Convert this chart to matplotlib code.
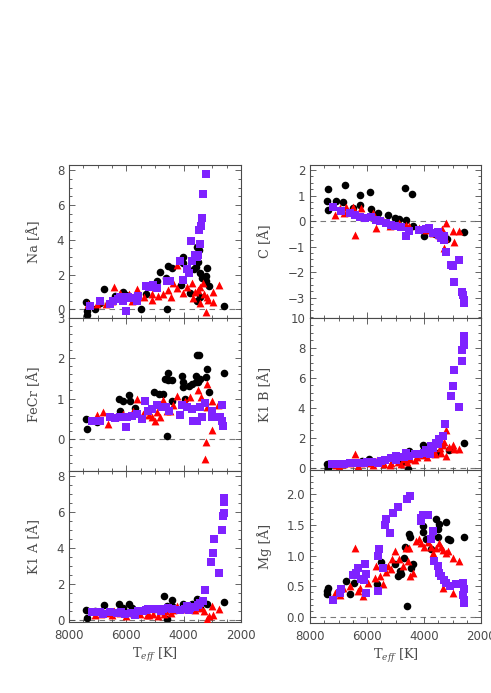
import matplotlib
matplotlib.use("Agg")
import matplotlib.pyplot as plt
from matplotlib.ticker import MultipleLocator, AutoMinorLocator, FormatStrFormatter

# --------------------------
# Data (Teff [K], index [A])
# --------------------------
# Na
na_blk_t = [7410, 7360, 7360, 7090, 6920, 6770, 6400, 6100, 6000, 5500, 5300, 4940, 4830, 4590, 4530,
            4420, 4600, 4030, 4010, 4100, 3780, 3650, 3550, 3450, 3570, 3430, 3550, 3430, 3200, 3220,
            3220, 3100, 2590, 3350, 3500]
na_blk_v = [0.44, -0.08, -0.3, 0.0, 0.35, 1.15, 0.75, 1.0, 0.85, 0.0, 0.9, 1.6, 2.15, 0.0, 2.5,
            2.4, 1.8, 3.0, 2.65, 1.4, 0.92, 2.3, 3.6, 3.4, 2.46, 2.08, 0.45, 0.73, 2.4, 1.92,
            1.6, 1.35, 0.19, 1.8, 2.7]
na_red_t = [7330, 7030, 6920, 6720, 6430, 6220, 5920, 5640, 5400, 5120, 5120, 4880, 4710, 4530, 4360,
            4220, 4240, 4010, 3900, 3720, 3660, 3490, 3430, 3320, 3220, 3290, 3200, 2970, 2970, 2760,
            3430, 3140, 3600, 4450, 5800, 6500]
na_red_v = [0.3, 0.3, 0.5, 0.3, 1.27, 0.95, 0.9, 1.15, 0.7, 0.55, 0.9, 0.75, 0.9, 1.1, 1.5,
            2.56, 1.2, 0.95, 1.3, 1.5, 0.65, 1.1, 1.3, 1.5, -0.13, 0.9, 0.7, 1.0, 0.44, 1.42,
            0.35, 0.55, 1.0, 0.7, 0.5, 0.45]
na_pur_t = [7270, 6920, 6570, 6450, 6280, 6220, 6100, 6010, 5930, 5840, 5640, 5580, 5310, 5200, 5080,
            4940, 4590, 4480, 4130, 4030, 3900, 3750, 3720, 3600, 3550, 3490, 3450, 3400, 3370, 3430,
            3310, 3230, 3800]
na_pur_v = [0.2, 0.48, 0.3, 0.5, 0.6, 0.7, 0.5, -0.08, 0.7, 0.65, 0.5, 0.75, 1.35, 1.3, 1.4,
            1.2, 1.6, 1.6, 2.75, 1.7, 2.3, 3.94, 2.75, 3.1, 3.0, 3.1, 4.58, 4.77, 5.25, 3.77,
            6.63, 7.77, 2.1]

# C
c_blk_t = [7360, 7400, 7360, 7090, 6770, 6840, 6230, 6230, 5910, 5870, 6500, 4660, 4430, 5270, 5030,
           4860, 4630, 4400, 4010, 3600, 3300, 3200, 2590, 5600]
c_blk_v = [1.26, 0.78, 0.42, 0.78, 1.43, 0.75, 1.01, 0.62, 1.13, 0.47, 0.5, 1.3, 1.08, 0.22, 0.12,
           0.1, 0.05, -0.2, -0.58, -0.5, -0.55, -0.7, -0.43, 0.3]
c_red_t = [7130, 6950, 6720, 6490, 6430, 6200, 5790, 5670, 5440, 5210, 4860, 4630, 4510, 4160, 3930,
           3700, 3470, 3230, 3260, 3000, 2940, 2770, 3290, 3380, 5900, 6800]
c_red_v = [0.25, 0.5, 0.57, 0.57, -0.54, 0.5, 0.32, -0.28, 0.05, -0.2, -0.08, -0.15, -0.2, -0.28, -0.34,
           -0.47, -0.54, -0.08, -0.67, -0.4, -0.8, -0.4, -1.06, -0.3, 0.2, 0.3]
c_pur_t = [7210, 6900, 6600, 6430, 6260, 6080, 5850, 5670, 5560, 5330, 5150, 5030, 4630, 4510, 4160,
           3930, 3810, 3700, 3520, 3470, 3410, 3290, 3230, 3060, 3000, 2770, 2940, 2650, 2620, 2590,
           2590, 4800, 3600, 3300]
c_pur_v = [0.54, 0.38, 0.32, 0.25, 0.18, 0.12, 0.18, 0.05, 0.0, -0.08, -0.14, -0.21, -0.6, -0.4, -0.34,
           -0.32, -0.28, -0.47, -0.41, -0.54, -0.67, -0.76, -1.2, -1.72, -1.78, -1.52, -2.38, -2.78, -2.9, -3.1,
           -3.23, -0.25, -0.45, -0.6]

# FeCr
fecr_blk_t = [7420, 7360, 7030, 6240, 6220, 6100, 5890, 5870, 5700, 5020, 4850, 4710, 4650, 4530, 4560,
              4420, 4590, 4070, 4010, 4030, 3960, 3570, 3570, 3550, 3450, 3500, 3430, 3200, 3220, 3100,
              2590, 3800, 3700, 4400]
fecr_blk_v = [0.48, 0.25, 0.41, 1.0, 0.7, 0.93, 1.1, 0.93, 0.76, 1.16, 1.12, 1.12, 1.49, 1.63, 1.45,
              1.45, 0.08, 1.55, 1.28, 1.4, 0.99, 1.4, 1.57, 2.09, 2.09, 1.4, 1.49, 1.74, 1.53, 1.16,
              1.63, 1.3, 1.35, 0.95]
fecr_red_t = [7030, 6800, 6630, 6400, 6110, 5760, 5640, 5410, 5290, 5120, 5000, 4940, 4830, 4710, 4590,
              4470, 4240, 3960, 3790, 3500, 3380, 3200, 3200, 3220, 3260, 3020, 2790, 3000, 4360, 5200]
fecr_red_v = [0.58, 0.66, 0.37, 0.54, 0.62, 0.7, 0.99, 0.62, 0.7, 0.54, 0.45, 0.66, 0.54, 0.96, 0.7,
              0.7, 1.07, 0.95, 1.05, 1.2, 1.03, 1.35, 0.79, -0.08, -0.5, 0.22, 0.83, 0.95, 0.85, 0.6]
fecr_pur_t = [7210, 6920, 6570, 6400, 6220, 6010, 5990, 5810, 5640, 5470, 5350, 5230, 5120, 4940, 4770,
              4620, 4130, 4070, 3900, 3720, 3660, 3550, 3430, 3370, 3260, 3000, 3000, 2680, 2750, 2650,
              2620, 4500]
fecr_pur_v = [0.43, 0.45, 0.54, 0.52, 0.54, 0.29, 0.54, 0.56, 0.62, 0.5, 0.95, 0.7, 0.74, 0.83, 0.79,
              0.79, 0.6, 0.83, 0.79, 0.74, 0.45, 0.45, 0.79, 0.54, 0.88, 0.7, 0.54, 0.84, 0.54, 0.45,
              0.33, 0.7]

# K1 B
k1b_blk_t = [7400, 7360, 6180, 5940, 5880, 4510, 4570, 4050, 4010, 3120, 2590, 3500, 4800]
k1b_blk_v = [0.22, -0.04, 0.44, 0.6, 0.44, 1.1, -0.05, 1.55, 1.27, 1.2, 1.62, 1.0, 0.3]
k1b_red_t = [7100, 6850, 6600, 6430, 6200, 5900, 5640, 5400, 5150, 4900, 4700, 4500, 4250, 4050, 3850,
             3650, 3450, 3230, 3230, 3000, 2940, 2770, 3130, 3350, 3300, 7000, 6300, 5800, 5200, 4800,
             4600, 4300, 3900, 3600, 3400]
k1b_red_v = [0.2, 0.25, 0.3, 0.95, 0.3, 0.35, 0.55, 0.25, 0.35, 0.4, 0.6, 0.6, 0.75, 0.85, 1.0,
             1.1, 1.3, 2.55, 0.78, 1.55, 1.22, 1.27, 1.4, 1.5, 1.7, 0.1, 0.15, 0.2, 0.2, 0.25,
             0.4, 0.5, 0.7, 0.9, 1.0]
k1b_pur_t = [7240, 6950, 6600, 6400, 6200, 6010, 5840, 5600, 5380, 5150, 4970, 4630, 4510, 4160, 3930,
             3760, 3580, 3470, 3350, 3260, 3060, 3000, 2940, 2770, 2650, 2650, 2590, 2590, 2590, 3800,
             6800, 6100, 5500, 5000, 4700, 4300, 4000, 3700, 3500]
k1b_pur_v = [0.22, 0.22, 0.3, 0.3, 0.35, 0.38, 0.4, 0.33, 0.55, 0.66, 0.77, 0.96, 0.78, 0.89, 1.2,
             1.44, 1.67, 1.89, 2.1, 2.89, 4.78, 5.44, 6.56, 4.07, 7.11, 7.89, 8.56, 8.22, 8.78, 0.9,
             0.25, 0.3, 0.45, 0.5, 0.7, 0.9, 1.0, 1.3, 1.6]

# K1 A
k1a_blk_t = [7410, 7360, 7090, 6770, 6240, 6100, 5890, 5800, 4670, 4590, 4590, 4420, 4010, 3550, 3700,
             3200, 2590, 3430, 4420, 5000]
k1a_blk_v = [0.55, 0.13, 0.5, 0.86, 0.9, 0.7, 0.92, 0.7, 1.32, 0.07, 0.8, 1.14, 0.92, 1.18, 0.92,
             0.92, 0.99, 0.8, 0.8, 0.6]
k1a_red_t = [7090, 6680, 6440, 6210, 5980, 5750, 5520, 5290, 5060, 4830, 4600, 4370, 4240, 4000, 3800,
             3600, 3200, 3100, 3020, 2970, 2760, 3300, 3400, 6900, 6500, 6000, 5600, 5200, 4900, 4700,
             4450]
k1a_red_v = [0.3, 0.4, 0.5, 0.4, 0.45, 0.4, 0.35, 0.3, 0.35, 0.5, 0.5, 0.55, 0.77, 0.6, 0.6,
             0.55, 0.07, 0.25, 0.77, 0.31, 0.62, 0.5, 0.7, 0.35, 0.3, 0.25, 0.45, 0.3, 0.25, 0.35,
             0.4]
k1a_pur_t = [7210, 6920, 6570, 6340, 6050, 5820, 5580, 5410, 5230, 5060, 4880, 4710, 4530, 4130, 3950,
             3780, 3600, 3430, 3340, 3260, 3060, 2990, 2930, 2760, 2650, 2640, 2590, 2590, 2590, 3900,
             6800, 6200, 5700, 5300, 4800, 4400, 3800, 3500]
k1a_pur_v = [0.44, 0.44, 0.44, 0.4, 0.37, 0.4, 0.5, 0.5, 0.6, 0.6, 0.64, 0.62, 0.68, 0.59, 0.62,
             0.68, 0.75, 0.95, 1.05, 1.69, 3.2, 3.71, 4.5, 2.61, 5.0, 5.77, 5.92, 6.56, 6.75, 0.8,
             0.35, 0.45, 0.3, 0.55, 0.5, 0.6, 0.55, 0.85]

# Mg
mg_blk_t = [7400, 7360, 7400, 6740, 6600, 6450, 5650, 5500, 5030, 4920, 4850, 4710, 4660, 4590, 4510,
            4490, 4450, 4390, 4050, 4050, 3930, 3760, 3580, 3520, 3500, 3460, 3230, 3170, 3100, 2590, 4800]
mg_blk_v = [0.42, 0.48, 0.37, 0.58, 0.37, 0.55, 0.53, 0.89, 0.86, 0.67, 0.75, 0.97, 1.15, 0.17, 1.35,
            1.31, 0.8, 0.87, 1.49, 1.38, 1.27, 1.11, 1.6, 1.43, 1.3, 1.51, 1.55, 1.27, 1.26, 1.3, 0.7]
mg_red_t = [7130, 6950, 6830, 6430, 6600, 6310, 6250, 6140, 5970, 5670, 5730, 5560, 5440, 5330, 5270,
            5150, 5120, 5030, 4860, 4740, 4570, 4630, 4510, 4500, 4390, 4280, 4190, 4100, 3990, 3870,
            3760, 3700, 3580, 3470, 3410, 3350, 3230, 3170, 3000, 2770, 3350, 3000]
mg_red_v = [0.39, 0.35, 0.48, 1.13, 0.5, 0.42, 0.48, 0.34, 0.55, 0.83, 0.64, 0.67, 0.53, 0.73, 0.83,
            0.78, 0.94, 1.08, 0.94, 0.83, 0.91, 1.13, 1.13, 0.66, 0.72, 1.24, 1.27, 1.21, 1.15, 1.23,
            1.15, 1.05, 1.13, 1.21, 1.15, 1.1, 1.05, 1.08, 0.97, 0.92, 0.48, 0.39]
mg_pur_t = [7210, 6950, 6900, 6490, 6310, 6400, 6200, 6080, 6020, 6100, 6020, 5620, 5580, 5600, 5430,
            5360, 5210, 5330, 5090, 4920, 4600, 4490, 4100, 4050, 3870, 4100, 3760, 3700, 3640, 3520,
            3460, 3400, 3290, 3230, 3090, 2880, 2710, 2630, 2590, 2590, 2590, 2620]
mg_pur_v = [0.27, 0.39, 0.45, 0.69, 0.8, 0.72, 0.62, 0.86, 0.39, 0.6, 0.7, 0.43, 1.11, 0.99, 0.8,
            1.5, 1.37, 1.6, 1.69, 1.79, 1.92, 1.98, 1.62, 1.66, 1.66, 1.57, 1.27, 1.4, 0.91, 0.83,
            0.72, 0.67, 0.61, 0.55, 0.5, 0.53, 0.53, 0.56, 0.45, 0.28, 0.23, 0.36]

# --------------------------
# Style
# --------------------------
GREY = "#4a4a4a"
RED = "#ff0000"
PURPLE = "#7f22ff"

plt.rcParams["font.family"] = "DejaVu Sans"
plt.rcParams["mathtext.fontset"] = "dejavuserif"
plt.rcParams["axes.edgecolor"] = GREY
plt.rcParams["axes.linewidth"] = 0.8

FIG_W, FIG_H = 491, 693


def make_axes(fig, left_px, top_px, width_px, height_px):
    return fig.add_axes([left_px / FIG_W, 1 - (top_px + height_px) / FIG_H,
                         width_px / FIG_W, height_px / FIG_H])


def draw_panel(ax, blk, red, pur, ylabel, ylim, major, minor_n, label_x,
               bottom=False, fmt=None):
    ax.axhline(0, color="#7a7a7a", lw=0.8, ls=(0, (5, 4)), zorder=1)
    ax.scatter(blk[0], blk[1], s=30, marker="o", color="black", lw=0, zorder=2)
    ax.scatter(red[0], red[1], s=32, marker="^", color=RED, lw=0, zorder=3)
    ax.scatter(pur[0], pur[1], s=27, marker="s", color=PURPLE, lw=0, zorder=4)

    ax.set_xlim(8000, 2000)
    ax.set_ylim(*ylim)
    ax.xaxis.set_major_locator(MultipleLocator(2000))
    ax.xaxis.set_minor_locator(MultipleLocator(500))
    ax.yaxis.set_major_locator(MultipleLocator(major))
    ax.yaxis.set_minor_locator(AutoMinorLocator(minor_n))
    if fmt:
        ax.yaxis.set_major_formatter(FormatStrFormatter(fmt))

    ax.tick_params(which="both", direction="in", top=True, right=True,
                   color=GREY, labelcolor=GREY, labelsize=8.5, width=0.6)
    ax.tick_params(which="major", length=4)
    ax.tick_params(which="minor", length=2)
    ax.tick_params(axis="x", pad=5)

    ax.set_ylabel(ylabel, family="DejaVu Serif", fontsize=9.3, color=GREY)
    ax.yaxis.set_label_coords(label_x, 0.5)
    if bottom:
        ax.set_xlabel(r"T$_{eff}$ [K]", family="DejaVu Serif", fontsize=9.3,
                      color=GREY, labelpad=3)
    else:
        ax.tick_params(axis="x", labelbottom=False)


fig = plt.figure(figsize=(FIG_W / 100, FIG_H / 100), dpi=100)

# left column
ax = make_axes(fig, 69, 165, 172, 153)
draw_panel(ax, (na_blk_t, na_blk_v), (na_red_t, na_red_v), (na_pur_t, na_pur_v),
           "Na [Å]", (-0.5, 8.3), 2, 4, -0.163)
ax = make_axes(fig, 69, 318, 172, 153)
draw_panel(ax, (fecr_blk_t, fecr_blk_v), (fecr_red_t, fecr_red_v), (fecr_pur_t, fecr_pur_v),
           "FeCr [Å]", (-0.8, 3.0), 1, 5, -0.163)
ax = make_axes(fig, 69, 471, 172, 151)
draw_panel(ax, (k1a_blk_t, k1a_blk_v), (k1a_red_t, k1a_red_v), (k1a_pur_t, k1a_pur_v),
           "K1 A [Å]", (-0.1, 8.25), 2, 4, -0.163, bottom=True)

# right column
ax = make_axes(fig, 310, 165, 171, 153)
draw_panel(ax, (c_blk_t, c_blk_v), (c_red_t, c_red_v), (c_pur_t, c_pur_v),
           "C [Å]", (-3.8, 2.2), 1, 4, -0.222)
ax = make_axes(fig, 310, 318, 171, 152)
draw_panel(ax, (k1b_blk_t, k1b_blk_v), (k1b_red_t, k1b_red_v), (k1b_pur_t, k1b_pur_v),
           "K1 B [Å]", (-0.15, 10.0), 2, 4, -0.222)
ax = make_axes(fig, 310, 470, 171, 153)
draw_panel(ax, (mg_blk_t, mg_blk_v), (mg_red_t, mg_red_v), (mg_pur_t, mg_pur_v),
           "Mg [Å]", (-0.1, 2.4), 0.5, 5, -0.222, bottom=True, fmt="%.1f")

fig.savefig("out.png", dpi=100)
